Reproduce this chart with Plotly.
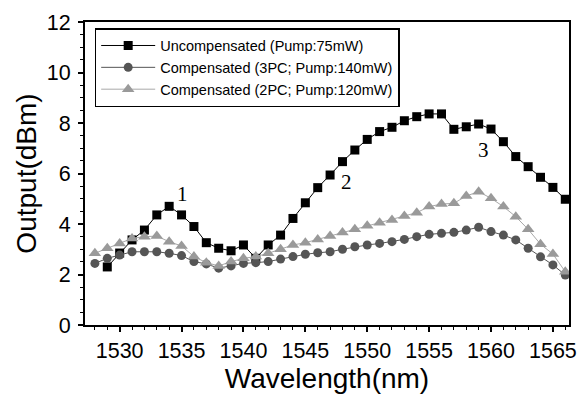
import plotly.graph_objects as go

wl_unc = list(range(1529, 1567))
unc = [2.3, 2.85, 3.37, 3.76, 4.36, 4.7, 4.36, 3.9, 3.26, 3.04, 2.94, 3.17, 2.64, 3.17,
       3.56, 4.22, 4.84, 5.44, 5.94, 6.47, 6.93, 7.35, 7.66, 7.83, 8.09, 8.25, 8.36, 8.36,
       7.75, 7.85, 7.96, 7.76, 7.26, 6.67, 6.27, 5.85, 5.45, 4.98]

wl_comp = list(range(1528, 1567))
comp3 = [2.44, 2.64, 2.77, 2.9, 2.9, 2.9, 2.84, 2.75, 2.51, 2.42, 2.25, 2.34, 2.44, 2.47,
         2.51, 2.61, 2.71, 2.8, 2.86, 2.9, 3.0, 3.1, 3.17, 3.23, 3.3, 3.39, 3.5, 3.59, 3.63,
         3.67, 3.76, 3.87, 3.7, 3.56, 3.37, 3.04, 2.7, 2.38, 1.98]
comp2 = [2.84, 3.04, 3.23, 3.43, 3.5, 3.52, 3.3, 3.13, 2.71, 2.47, 2.34, 2.51, 2.64, 2.71,
         2.84, 3.0, 3.17, 3.26, 3.39, 3.52, 3.66, 3.79, 3.93, 4.05, 4.16, 4.32, 4.45, 4.69,
         4.79, 4.82, 5.11, 5.28, 5.02, 4.69, 4.29, 3.79, 3.2, 2.81, 2.11]

names = ["Uncompensated (Pump:75mW)", "Compensated (3PC; Pump:140mW)",
         "Compensated (2PC; Pump:120mW)"]

labels = ["1", "2", "3"]
label_x = [1535.1, 1548.3, 1559.4]
label_y = [5.2, 5.68, 6.93]

fig = go.Figure()
fig.add_trace(go.Scatter(x=wl_unc, y=unc, name=names[0], mode="lines+markers",
                         line=dict(color="black", width=1),
                         marker=dict(symbol="square", size=9, color="black")))
fig.add_trace(go.Scatter(x=wl_comp, y=comp3, name=names[1], mode="lines+markers",
                         line=dict(color="#555555", width=1),
                         marker=dict(symbol="circle", size=9, color="#555555")))
fig.add_trace(go.Scatter(x=wl_comp, y=comp2, name=names[2], mode="lines+markers",
                         line=dict(color="#a8a8a8", width=1),
                         marker=dict(symbol="triangle-up", size=11, color="#9a9a9a")))

for t, x, y in zip(labels, label_x, label_y):
    fig.add_annotation(x=x, y=y, text=t, showarrow=False,
                       font=dict(family="Liberation Serif", size=21, color="black"))

axis_common = dict(showline=True, linecolor="black", linewidth=2, mirror=True,
                   ticks="outside", ticklen=5, tickwidth=1.5, tickcolor="black",
                   showgrid=False, zeroline=False,
                   tickfont=dict(family="Liberation Sans", size=21.5, color="black"))

fig.update_xaxes(range=[1527.2, 1566.3], tick0=1530, dtick=5,
                 minor=dict(dtick=1, ticklen=3, tickwidth=1.2, tickcolor="black", ticks="outside"),
                 title=dict(text="Wavelength(nm)", standoff=7,
                            font=dict(family="Liberation Sans", size=28, color="black")),
                 **axis_common)
fig.update_yaxes(range=[0, 12], tick0=0, dtick=2, ticklabelstandoff=3,
                 minor=dict(dtick=0.5, ticklen=3, tickwidth=1.2, tickcolor="black", ticks="outside"),
                 title=dict(text="Output(dBm)", standoff=2,
                            font=dict(family="Liberation Sans", size=28, color="black")),
                 **axis_common)

fig.update_layout(
    width=583, height=397,
    margin=dict(l=85, r=6, t=22, b=72),
    paper_bgcolor="white", plot_bgcolor="white",
    legend=dict(x=0.02, y=0.98, xanchor="left", yanchor="top",
                bgcolor="white", bordercolor="black", borderwidth=1.5,
                font=dict(family="Liberation Sans", size=14.5, color="black"),
                itemwidth=54, tracegroupgap=0),
)

fig.write_html("out.html")
